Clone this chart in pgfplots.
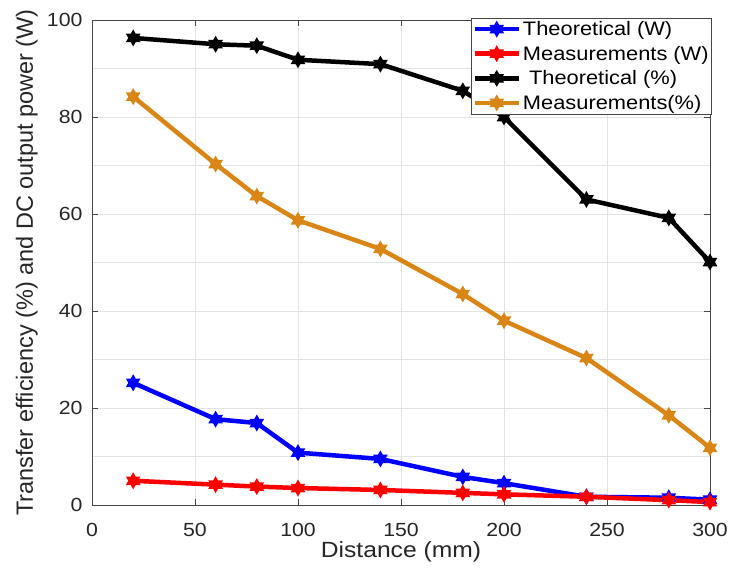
\documentclass[border=0pt]{standalone}
\usepackage{pgfplots}
\pgfplotsset{compat=1.18}
\usepackage{fontspec}
\setmainfont{Liberation Sans}[FakeStretch=1.12]
\newfontfamily\ylabfont{Liberation Sans}
\definecolor{mblue}{RGB}{0,0,255}
\definecolor{mred}{RGB}{255,0,0}
\definecolor{morange}{RGB}{218,134,22}
\definecolor{axgray}{RGB}{70,70,70}
% filled six-point star, like the MATLAB hexagram marker
\pgfdeclareplotmark{hexagram}{%
  \pgfpathmoveto{\pgfqpointpolar{90}{\pgfplotmarksize}}%
  \pgfpathlineto{\pgfqpointpolar{210}{\pgfplotmarksize}}%
  \pgfpathlineto{\pgfqpointpolar{330}{\pgfplotmarksize}}%
  \pgfpathclose
  \pgfpathmoveto{\pgfqpointpolar{270}{\pgfplotmarksize}}%
  \pgfpathlineto{\pgfqpointpolar{30}{\pgfplotmarksize}}%
  \pgfpathlineto{\pgfqpointpolar{150}{\pgfplotmarksize}}%
  \pgfpathclose
  \pgfusepathqfillstroke}
\begin{document}
\begin{tikzpicture}
  \begin{axis}[
      scale only axis,
      width=618pt, height=485pt,
      xmin=0, xmax=300, ymin=0, ymax=100,
      xtick={0,50,...,300},
      ytick={0,20,...,100},
      minor ytick={10,30,...,90},
      grid=both,
      major grid style={gray!22},
      minor grid style={gray!22},
      tick align=inside,
      major tick length=6pt,
      minor tick length=0pt,
      axis line style={axgray, line width=0.8pt},
      tick style={axgray},
      tick label style={font=\fontsize{19}{21}\selectfont, text=black!85},
      xticklabel style={yshift=-15pt},
      yticklabel style={xshift=-6pt},
      /pgf/number format/assume math mode=true,
      xlabel={Distance (mm)},
      ylabel={Transfer efficiency (\%) and DC output power (W)},
      xlabel style={font=\fontsize{22}{24}\selectfont, text=black!85,
        at={(axis description cs:0.5,-0.068)}, anchor=north},
      ylabel style={font=\ylabfont\fontsize{23.5}{25}\selectfont, text=black!85,
        at={(axis description cs:-0.082,0.5)}, anchor=south},
      legend style={at={(1.003,1.004)}, anchor=north east, draw=axgray,
        font=\fontsize{19.5}{21}\selectfont, inner sep=1pt,
        row sep=5pt, cells={anchor=west}},
      legend image code/.code={
        \draw[#1, line width=4.5pt, mark=none] (0pt,0pt) -- (44pt,0pt);
        \draw[#1] plot coordinates {(22pt,0pt)};
      },
      every axis plot/.append style={line width=4.5pt, mark=hexagram, mark size=4pt,
        mark options={line width=0.8pt}},
    ]
    \addplot[mblue, mark options={fill=mblue}] coordinates {
      (20,25.2) (60,17.7) (80,16.9) (100,10.8) (140,9.5)
      (180,5.8) (200,4.5) (240,1.7) (280,1.5) (300,1.1)
    };
    \addlegendentry{Theoretical (W)}
    \addplot[mred, mark options={fill=mred}] coordinates {
      (20,5.0) (60,4.2) (80,3.8) (100,3.5) (140,3.1)
      (180,2.5) (200,2.2) (240,1.7) (280,1.0) (300,0.6)
    };
    \addlegendentry{Measurements (W)}
    \addplot[black, mark options={fill=black}] coordinates {
      (20,96.3) (60,95.0) (80,94.7) (100,91.8) (140,90.9)
      (180,85.4) (200,80.0) (240,63.0) (280,59.2) (300,50.1)
    };
    \addlegendentry{\ Theoretical (\%)}
    \addplot[morange, mark options={fill=morange}] coordinates {
      (20,84.2) (60,70.3) (80,63.7) (100,58.7) (140,52.8)
      (180,43.5) (200,38.0) (240,30.3) (280,18.5) (300,11.8)
    };
    \addlegendentry{Measurements(\%)}
  \end{axis}
  % white margin as in the reference
  \path ([shift={(-92pt,-66pt)}]current axis.south west)
    rectangle ([shift={(22pt,20pt)}]current axis.north east);
\end{tikzpicture}
\end{document}
